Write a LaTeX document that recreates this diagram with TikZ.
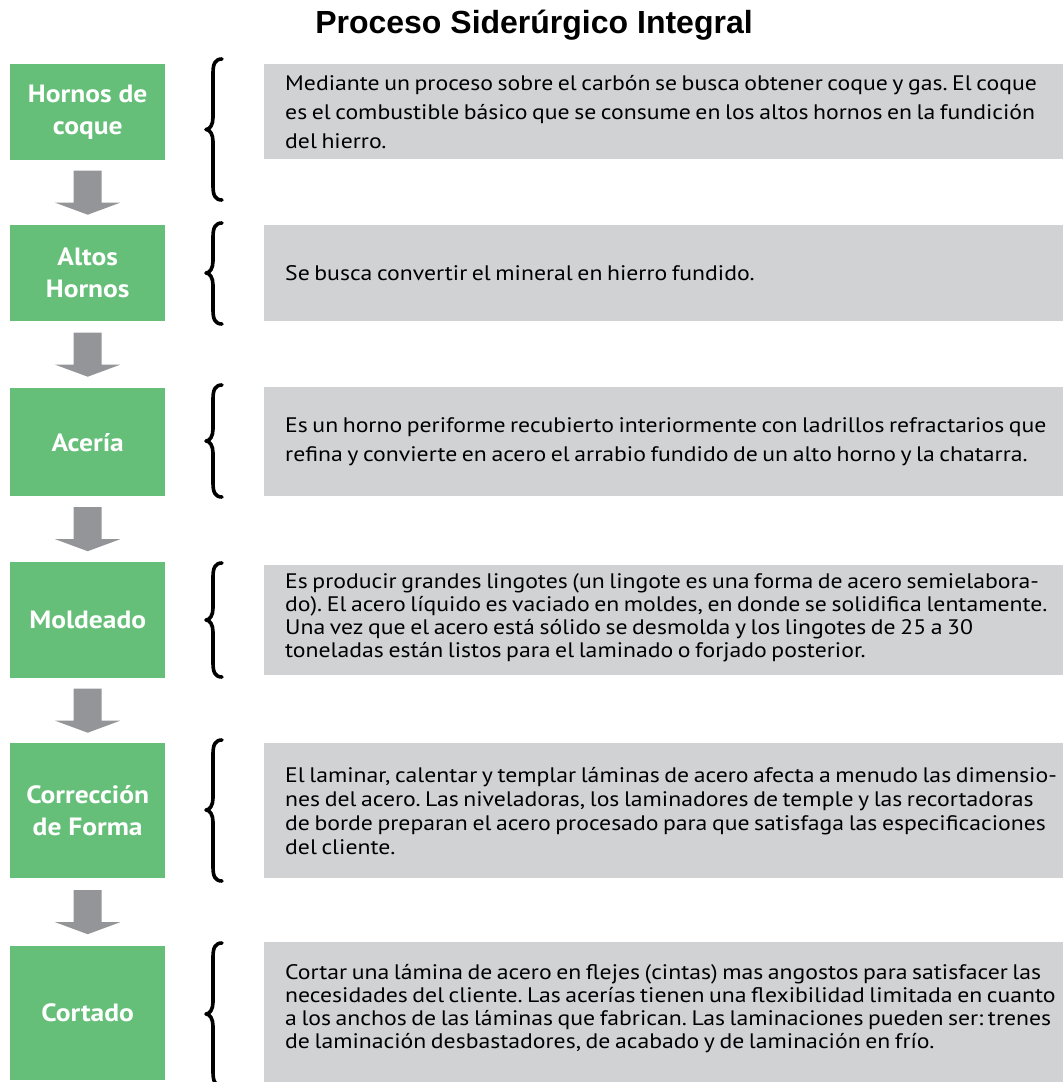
\documentclass[tikz,border=0pt]{standalone}
\usepackage{fontspec}
\setmainfont{PT Sans}[FakeStretch=1.13, WordSpace=0.72]
\newfontfamily\labelfont{PT Sans}[FakeStretch=1.1]
\newfontfamily\titlefont{Liberation Sans}
\usetikzlibrary{calc}
\frenchspacing
\definecolor{boxgreen}{RGB}{101,191,120}
\definecolor{descgray}{RGB}{209,210,212}
\definecolor{arrowgray}{RGB}{147,149,152}
\newcommand\flowarrow[3]{%
  \coordinate (#3) at ($(#1.south)!0.5!(#2.north)$);
  \fill[arrowgray] ($(#3)+(-14,-22)$) -- ($(#3)+(14,-22)$) -- ($(#3)+(14,10)$) -- ($(#3)+(32.5,10)$) -- ($(#3)+(0,22)$) -- ($(#3)+(-32.5,10)$) -- ($(#3)+(-14,10)$) -- cycle;}
\newcommand\sidebrace[3]{%
  \draw[bracepath] (222,#1) .. controls (215,#1) and (213,#1+5) .. (213,#1+14) -- (213,#2-12) .. controls (213,#2-5) and (210,#2) .. (206,#2) .. controls (210,#2) and (213,#2+5) .. (213,#2+12) -- (213,#3-14) .. controls (213,#3-5) and (215,#3) .. (222,#3);}
\begin{document}
\frenchspacing
\begin{tikzpicture}[x=1pt,y=-1pt,
  labeltext/.style={text=white, font=\labelfont\bfseries\fontsize{25pt}{32pt}\selectfont, align=center},
  stage/.style={labeltext, fill=boxgreen, minimum width=155pt, inner sep=0pt, anchor=north west},
  descbox/.style={fill=descgray, minimum width=799pt, inner sep=0pt, anchor=north west},
  desc/.style={anchor=west, align=left, inner sep=0pt, text=black},
  descA/.style={desc, font=\fontsize{21pt}{29pt}\selectfont},
  descB/.style={desc, font=\fontsize{21pt}{23pt}\selectfont},
  bracepath/.style={line width=3.6pt, line cap=round, line join=round}
]
\useasboundingbox (0,0) rectangle (1063,1082);
\fill[white] (0,0) rectangle (1063,1082);

\node[font=\titlefont\bfseries\fontsize{32pt}{38pt}\selectfont] (title) at (534,25) {Proceso Siderúrgico Integral};

% stages
\node[stage, minimum height=96pt] (g1) at (10,64) {Hornos de\\coque};
\node[stage, minimum height=96pt] (g2) at (10,225) {Altos\\Hornos};
\node[stage, minimum height=108pt] (g3) at (10,388) {Acería};
\node[stage, minimum height=116pt] (g4) at (10,562) {Moldeado};
\node[stage, minimum height=135pt] (g5) at (10,743) {Corrección\\de Forma};
\node[stage, minimum height=134pt] (g6) at (10,946) {};
\node[labeltext] (g6t) at ($(g6.north)+(0,67)$) {Cortado};

% description boxes
\node[descbox, minimum height=95pt] (d1) at (264,64) {};
\node[descbox, minimum height=96pt] (d2) at (264,225) {};
\node[descbox, minimum height=109pt] (d3) at (264,387) {};
\node[descbox, minimum height=110pt] (d4) at (264,565) {};
\node[descbox, minimum height=135pt] (d5) at (264,743) {};
\node[descbox, minimum height=140pt] (d6) at (264,942) {};

\node[descA] (t1) at ($(d1.west)+(21,0)$) {Mediante un proceso sobre el carbón se busca obtener coque y gas. El coque\\es el combustible básico que se consume en los altos hornos en la fundición\\del hierro.};
\node[descA] (t2) at ($(d2.west)+(21,0)$) {Se busca convertir el mineral en hierro fundido.};
\node[descA] (t3) at ($(d3.west)+(21,0)$) {Es un horno periforme recubierto interiormente con ladrillos refractarios que\\refina y convierte en acero el arrabio fundido de un alto horno y la chatarra.};
\node[descB] (t4) at ($(d4.west)+(21,-2)$) {Es producir grandes lingotes (un lingote es una forma de acero semielabora-\\do). El acero líquido es vaciado en moldes, en donde se solidifica lentamente.\\Una vez que el acero está sólido se desmolda y los lingotes de 25 a 30\\toneladas están listos para el laminado o forjado posterior.};
\node[desc, font=\fontsize{21pt}{24pt}\selectfont] (t5) at ($(d5.west)+(21,0)$) {El laminar, calentar y templar láminas de acero afecta a menudo las dimensio-\\nes del acero. Las niveladoras, los laminadores de temple y las recortadoras\\de borde preparan el acero procesado para que satisfaga las especificaciones\\del cliente.};
\node[descB] (t6) at ($(d6.north west)+(21,67)$) {Cortar una lámina de acero en flejes (cintas) mas angostos para satisfacer las\\necesidades del cliente. Las acerías tienen una flexibilidad limitada en cuanto\\a los anchos de las láminas que fabrican. Las laminaciones pueden ser: trenes\\de laminación desbastadores, de acabado y de laminación en frío.};

% arrows
\flowarrow{g1}{g2}{m1}
\flowarrow{g2}{g3}{m2}
\flowarrow{g3}{g4}{m3}
\flowarrow{g4}{g5}{m4}
\flowarrow{g5}{g6}{m5}

% braces
\sidebrace{59}{129.5}{200}
\sidebrace{223}{273}{324}
\sidebrace{385}{441}{497}
\sidebrace{563}{620}{677}
\sidebrace{740}{810}{881}
\sidebrace{943}{1014}{1086}
\end{tikzpicture}
\end{document}
